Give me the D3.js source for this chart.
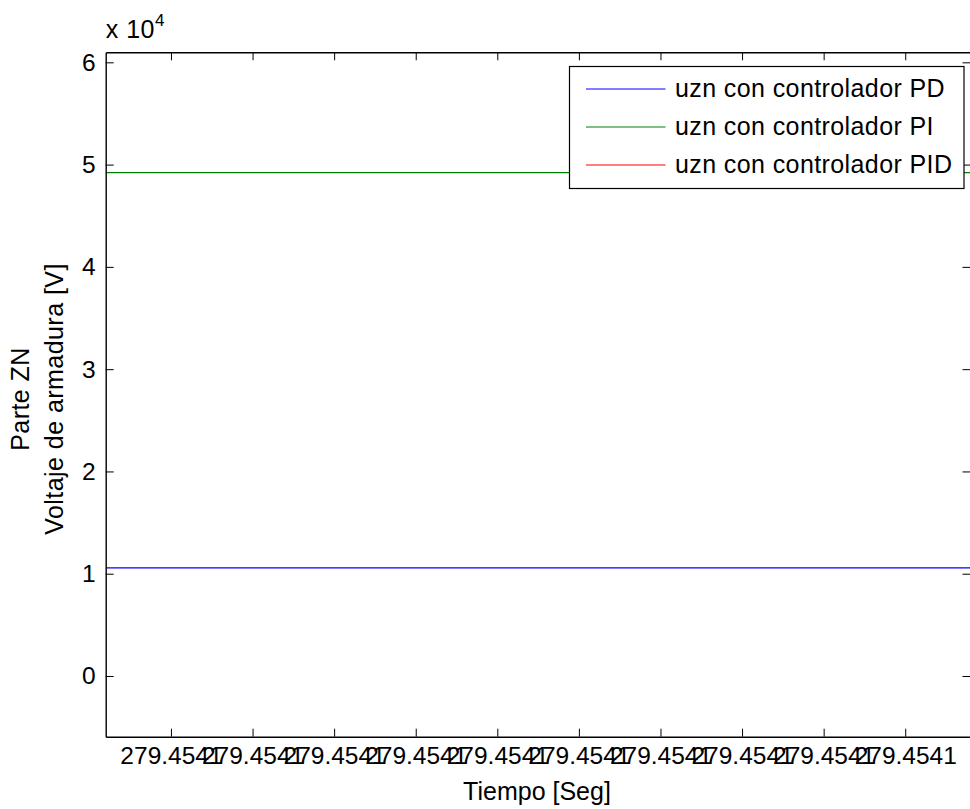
<!DOCTYPE html>
<html><head><meta charset="utf-8">
<script src="https://cdn.jsdelivr.net/npm/d3@7"></script>
<style>
html,body{margin:0;padding:0;background:#fff;}
text{font-family:"Liberation Sans",Arial,Helvetica,sans-serif;fill:#000;}
</style></head><body>
<svg id="c" width="970" height="809"></svg>
<script>
// ---- data ----
const time = [279.4540992, 279.4541098];
const seriesNames = ["uzn con controlador PD", "uzn con controlador PI", "uzn con controlador PID"];
const uPD = [10580, 10580];
const uPI = [49220, 49220];
const uPID = [75000, 75000]; // outside the visible range (not visible in reference)
const seriesColors = ["#0000ff", "#008000", "#ff0000"];
const xTickValues = [279.454100, 279.454101, 279.454102, 279.454103, 279.454104, 279.454105, 279.454106, 279.454107, 279.454108, 279.454109];
const xTickLabels = ["279.4541","279.4541","279.4541","279.4541","279.4541","279.4541","279.4541","279.4541","279.4541","279.4541"];
const yTickValues = [0, 10000, 20000, 30000, 40000, 50000, 60000];
const yTickLabels = ["0","1","2","3","4","5","6"];
const yDomain = [-5935, 60980];
const xLabel = "Tiempo [Seg]";
const yLabel1 = "Parte ZN";
const yLabel2 = "Voltaje de armadura [V]";

// ---- layout ----
const L = 105.7, R = 970.5, T = 52.3, B = 736.7;
const svg = d3.select("#c");
svg.append("rect").attr("width",970).attr("height",809).attr("fill","#fff");

const x = d3.scaleLinear().domain([time[0], time[1]]).range([L, R]);
const y = d3.scaleLinear().domain(yDomain).range([B, T]);

svg.append("defs").append("clipPath").attr("id","clip")
  .append("rect").attr("x",L).attr("y",T).attr("width",R-L).attr("height",B-T);

const FS = 23;
const FL = 25;
const tickLen = 8;

// lines
const allSeries = [uPD, uPI, uPID];
const line = d3.line().x((d,i)=>x(time[i])).y(d=>y(d));
const g = svg.append("g").attr("clip-path","url(#clip)");
allSeries.forEach((s,k)=>{
  g.append("path").datum(s).attr("d",line).attr("fill","none")
   .attr("stroke",seriesColors[k]).attr("stroke-width",1.2);
});

// axes
const xb = d3.axisBottom(x).tickValues(xTickValues).tickFormat((d,i)=>xTickLabels[i]).tickSizeInner(-tickLen).tickSizeOuter(0).tickPadding(10);
const xt = d3.axisTop(x).tickValues(xTickValues).tickFormat("").tickSizeInner(-tickLen).tickSizeOuter(0);
const yl = d3.axisLeft(y).tickValues(yTickValues).tickFormat((d,i)=>yTickLabels[i]).tickSizeInner(-tickLen).tickSizeOuter(0).tickPadding(10);
const yr = d3.axisRight(y).tickValues(yTickValues).tickFormat("").tickSizeInner(-tickLen).tickSizeOuter(0);

function style(sel){
  sel.select(".domain").attr("stroke","#000").attr("stroke-width",1.4);
  sel.selectAll(".tick line").attr("stroke","#000").attr("stroke-width",1);
  sel.selectAll(".tick text").attr("font-size",FS).attr("font-family","Liberation Sans, Arial, sans-serif").attr("fill","#000");
}
svg.append("g").attr("transform",`translate(0,${B})`).call(xb).call(style);
svg.append("g").attr("transform",`translate(0,${T})`).call(xt).call(style);
svg.append("g").attr("transform",`translate(${L},0)`).call(yl).call(style);
svg.append("g").attr("transform",`translate(${R},0)`).call(yr).call(style);
svg.selectAll(".tick text").attr("font-size", d => FS + 1.5);

// exponent label
const ex = svg.append("text").attr("x",L).attr("y",38).attr("font-size",FL).attr("letter-spacing",0.5);
ex.append("tspan").text("x 10");
ex.append("tspan").attr("font-size",17).attr("dy",-12).text("4");

// axis labels
svg.append("text").attr("x",537).attr("y",800).attr("text-anchor","middle").attr("font-size",FL).text(xLabel);
svg.append("text").attr("transform",`translate(29,399) rotate(-90)`).attr("text-anchor","middle").attr("font-size",FL).attr("letter-spacing",0.45).text(yLabel1);
svg.append("text").attr("transform",`translate(63,399) rotate(-90)`).attr("text-anchor","middle").attr("font-size",FL).attr("letter-spacing",0.45).text(yLabel2);

// legend
const lg = svg.append("g");
const lx = 569.5, ly = 66.5, lw = 394.5, lh = 122;
lg.append("rect").attr("x",lx).attr("y",ly).attr("width",lw).attr("height",lh).attr("fill","#fff").attr("stroke","#000").attr("stroke-width",1.2);
const rowY = [89, 127, 165];
seriesNames.forEach((n,k)=>{
  lg.append("line").attr("x1",586).attr("x2",665.5).attr("y1",rowY[k]).attr("y2",rowY[k]).attr("stroke",seriesColors[k]).attr("stroke-width",1.2);
  lg.append("text").attr("x",675).attr("y",rowY[k]+8).attr("font-size",FL).attr("letter-spacing",0.4).text(n);
});
</script>
</body></html>
